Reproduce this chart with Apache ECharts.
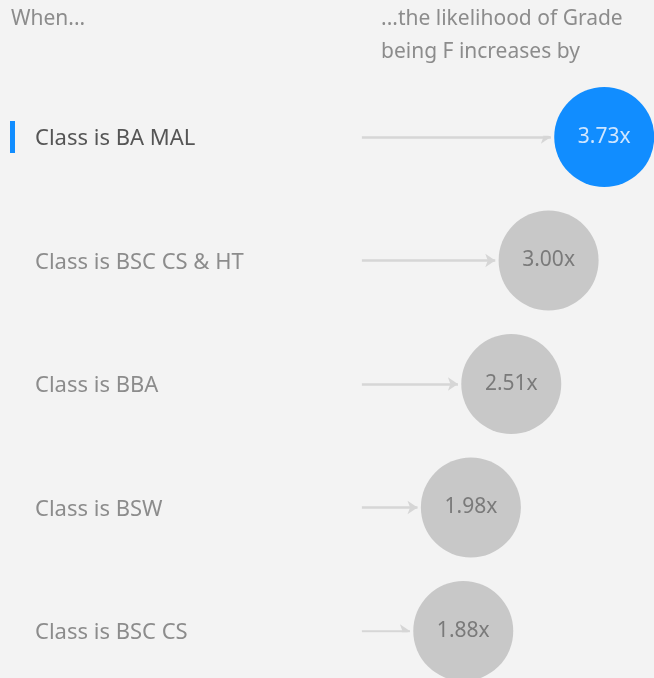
<!DOCTYPE html>
<html>
<head>
<meta charset="utf-8">
<script src="https://cdn.jsdelivr.net/npm/echarts@6/dist/echarts.min.js"></script>
<style>
  html, body { margin: 0; padding: 0; background: #f3f3f3; }
  #main { width: 654px; height: 678px; }
</style>
</head>
<body>
<div id="main"></div>
<script>
// key influencers: when <factor>, likelihood of Grade being F increases by
var factors = ['Class is BA MAL', 'Class is BSC CS & HT', 'Class is BBA', 'Class is BSW', 'Class is BSC CS'];
var multipliers = [3.73, 3.00, 2.51, 1.98, 1.88];
var selectedIndex = 0;

var chart = echarts.init(document.getElementById('main'));

var bubbleData = multipliers.map(function (v, i) {
    return {
        value: [v, i],
        itemStyle: { color: i === selectedIndex ? '#118dff' : '#c8c8c8', opacity: 1 },
        label: { color: i === selectedIndex ? '#cfe6ff' : '#7a7a7a' }
    };
});

// arrows run from a fixed start to just before each bubble
var arrowData = multipliers.map(function (v, i) {
    return { coords: [[0.55, i], [v - 0.7, i]] };
});

var option = {
    backgroundColor: '#f3f3f3',
    animation: false,
    title: [{
        text: 'When...',
        left: 11,
        top: 3,
        padding: 0,
        textStyle: { color: '#8c8c8c', fontSize: 21, fontWeight: 'normal', fontFamily: 'Noto Sans', lineHeight: 33 }
    }, {
        text: '...the likelihood of Grade\nbeing F increases by',
        left: 381,
        top: 3,
        padding: 0,
        textStyle: { color: '#8c8c8c', fontSize: 21, fontWeight: 'normal', fontFamily: 'Noto Sans', lineHeight: 33 }
    }],
    grid: { left: 320, right: 29.2, top: 137, bottom: 47 },
    xAxis: {
        type: 'value',
        min: 0,
        max: 4,
        show: false
    },
    yAxis: {
        type: 'value',
        min: 0,
        max: 4,
        interval: 1,
        inverse: true,
        axisLine: { show: false },
        axisTick: { show: false },
        splitLine: { show: false },
        axisLabel: {
            align: 'left',
            margin: 285,
            padding: [4, 0, 0, 0],
            fontFamily: 'Noto Sans',
            fontSize: 22,
            formatter: function (v) {
                var i = Math.round(v);
                return i === selectedIndex ? '{sel|' + factors[i] + '}' : '{n|' + factors[i] + '}';
            },
            rich: {
                sel: { color: '#555555', fontSize: 22, fontFamily: 'Noto Sans' },
                n: { color: '#8c8c8c', fontSize: 22, fontFamily: 'Noto Sans' }
            }
        }
    },
    graphic: [{
        type: 'rect',
        shape: { x: 10, y: 121, width: 5, height: 32 },
        style: { fill: '#118dff' }
    }],
    series: [{
        type: 'lines',
        coordinateSystem: 'cartesian2d',
        data: arrowData,
        symbol: ['none', 'arrow'],
        symbolSize: [0, 10],
        lineStyle: { color: '#d6d6d6', width: 2.5, opacity: 1 },
        z: 1
    }, {
        type: 'scatter',
        data: bubbleData,
        symbolSize: 100,
        label: {
            show: true,
            position: 'inside',
            fontFamily: 'Noto Sans',
            fontSize: 21,
            formatter: function (p) { return p.value[0].toFixed(2) + 'x'; }
        },
        z: 2
    }]
};

chart.setOption(option);
</script>
</body>
</html>
